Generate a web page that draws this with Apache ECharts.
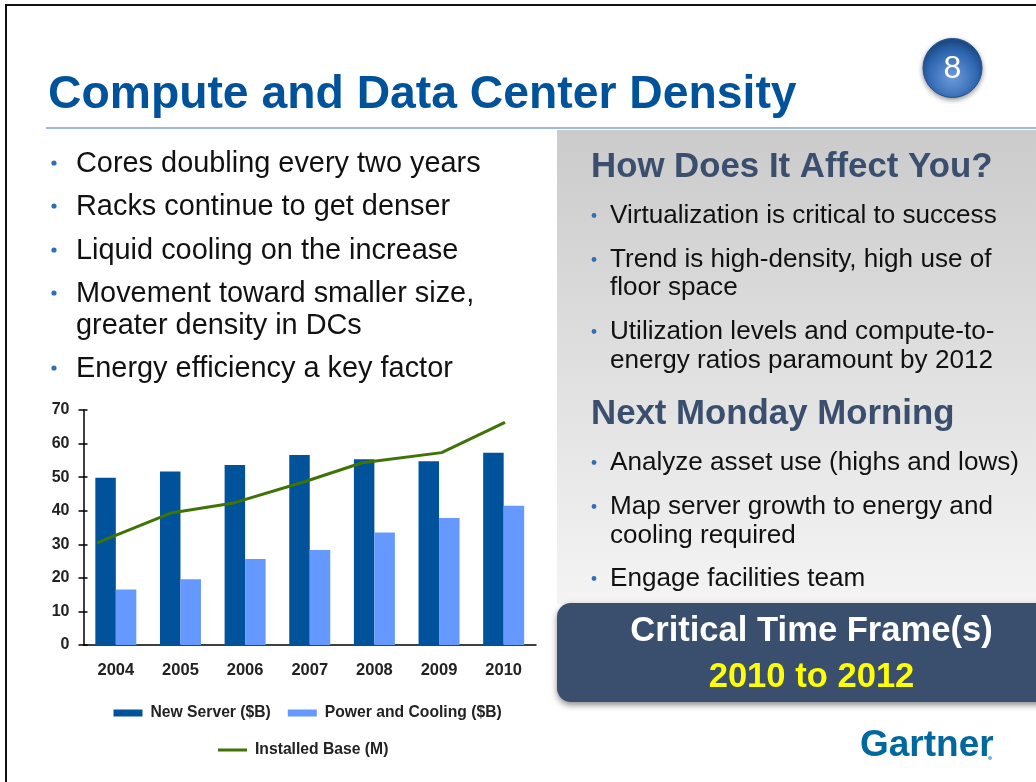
<!DOCTYPE html>
<html>
<head>
<meta charset="utf-8">
<style>html,body{margin:0;padding:0;background:#fff}#c{width:1036px;height:782px}</style>
<script src="https://cdn.jsdelivr.net/npm/echarts@6/dist/echarts.min.js"></script>
</head>
<body>
<div id="c"></div>
<script>
const categories = ['2004','2005','2006','2007','2008','2009','2010'];
const newServer = [49.8,51.7,53.6,56.6,55.3,54.7,57.3];
const powerCooling = [16.5,19.6,25.6,28.3,33.5,37.8,41.5];
const installedBase = [30.4,39.3,42.2,48.7,54.3,57.3,66.3];
const installedBaseYears = [2003.71,2004.85,2005.8,2006.93,2007.81,2009.04,2010.02];

const slideTitle = 'Compute and Data Center Density';
const leftBullets = ['Cores doubling every two years','Racks continue to get denser','Liquid cooling on the increase','Movement toward smaller size,\ngreater density in DCs','Energy efficiency a key factor'];
const affectHeading = 'How Does It Affect You?';
const affectBullets = ['Virtualization is critical to success','Trend is high-density, high use of\nfloor space','Utilization levels and compute-to-\nenergy ratios paramount by 2012'];
const mondayHeading = 'Next Monday Morning';
const mondayBullets = ['Analyze asset use (highs and lows)','Map server growth to energy and\ncooling required','Engage facilities team'];

const FF = '"Liberation Sans", Arial, sans-serif';
const NAVY = '#3A4E6E', BLUE = '#00529B';
const g = [];
const text = (x,y,t,size,fill,weight,align) => g.push({type:'text',z:5,style:{x,y,text:t,fill,font:(weight||'normal')+' '+size+'px '+FF,textAlign:align||'left',textVerticalAlign:'middle'}});
const rect = (x,y,w,h,style,r) => g.push({type:'rect',z:style.z||1,shape:{x,y,width:w,height:h,r:r||0},style});
const bullet = (x,y,c,r) => g.push({type:'circle',z:5,shape:{cx:x,cy:y,r:r},style:{fill:c}});

// slide frame
rect(5,4,1031,2,{fill:'#111'});
rect(5,4,2,778,{fill:'#111'});
rect(46,127,990,2,{fill:'#9DB7E0'});
rect(557,130,479,474,{fill:new echarts.graphic.LinearGradient(0,0,0,1,[{offset:0,color:'#CBCBCB'},{offset:1,color:'#F4F4F4'}])});
g.push({type:'rect',z:2,shape:{x:557,y:603,width:490,height:99,r:[14,0,0,14]},style:{fill:NAVY,shadowBlur:6,shadowOffsetY:3,shadowColor:'rgba(0,0,0,0.45)'}});

text(48,95,slideTitle,46.3,BLUE,'bold');
g.push({type:'circle',z:3,shape:{cx:952.5,cy:68,r:29.5},style:{fill:new echarts.graphic.RadialGradient(0.5,0.65,0.6,[{offset:0,color:'#6E9BDB'},{offset:0.7,color:'#2F67B2'},{offset:1,color:'#1F4E8C'}]),stroke:'#23508F',lineWidth:1,shadowBlur:5,shadowOffsetY:2,shadowColor:'rgba(0,0,0,0.4)'}});
text(952.5,69,'8',32,'#fff','normal','center');

// left bullets
const leftY = [[164],[207],[251],[294,326],[369]];
leftBullets.forEach((b,i)=>{
  bullet(54,leftY[i][0]-1,'#2F6FB5',2.6);
  b.split('\n').forEach((l,j)=>text(76,leftY[i][j],l,28.9,'#111'));
});

// right column
text(591,167,affectHeading,34.8,NAVY,'bold');
const affectY = [[215.5],[259.5,287.5],[331.5,360.5]];
affectBullets.forEach((b,i)=>{
  bullet(594,affectY[i][0],'#2F6FB5',2.4);
  b.split('\n').forEach((l,j)=>text(610,affectY[i][j],l,26.1,'#111'));
});
text(591,414,mondayHeading,34.8,NAVY,'bold');
const mondayY = [[462.5],[506.5,535.5],[578.5]];
mondayBullets.forEach((b,i)=>{
  bullet(594,mondayY[i][0],'#2F6FB5',2.4);
  b.split('\n').forEach((l,j)=>text(610,mondayY[i][j],l,26.1,'#111'));
});
text(811.5,631.5,'Critical Time Frame(s)',34.6,'#fff','bold','center');
text(811.5,677,'2010 to 2012',34.6,'#FFFF00','bold','center');
text(860,746,'Gartner',37,'#00689F','bold');
g.push({type:'circle',z:5,shape:{cx:990,cy:758,r:2},style:{fill:'#7FB2D0'}});

const chart = echarts.init(document.getElementById('c'),null,{renderer:'canvas'});
const legendText = {color:'#222',fontFamily:FF,fontWeight:'bold',fontSize:15.7,padding:[0,0,0,3]};
chart.setOption({
  animation:false,
  backgroundColor:'#fff',
  graphic:g,
  grid:{left:83.5,right:500,top:410,bottom:137},
  legend:[
    {left:108.5,top:700,itemWidth:29,itemHeight:7,itemGap:17,textStyle:legendText,icon:'rect',
     data:[{name:'New Server ($B)'},{name:'Power and Cooling ($B)'}]},
    {left:213,top:737,itemWidth:29,itemHeight:3,textStyle:legendText,icon:'rect',
     data:[{name:'Installed Base (M)'}]}
  ],
  xAxis:[
    {type:'category',data:categories,axisTick:{show:false},
     axisLine:{lineStyle:{color:'#000',width:1.5}},
     axisLabel:{margin:17,color:'#222',fontFamily:FF,fontWeight:'bold',fontSize:16.5}},
    {type:'value',min:2003.5,max:2010.5,show:false}
  ],
  yAxis:[
    {type:'value',min:0,max:70,interval:10,splitLine:{show:false},
     axisLine:{show:true,lineStyle:{color:'#000',width:1.5}},
     axisTick:{show:true,length:5,lineStyle:{color:'#000',width:1.5}},
     axisLabel:{margin:14,color:'#222',fontFamily:FF,fontWeight:'bold',fontSize:16}},
    {type:'value',min:0,max:70,interval:10,position:'left',splitLine:{show:false},
     axisLine:{show:false},axisLabel:{show:false},
     axisTick:{show:true,inside:true,length:4,lineStyle:{color:'#000',width:1.5}}}
  ],
  series:[
    {name:'New Server ($B)',type:'bar',data:newServer,barWidth:20.5,barGap:0,itemStyle:{color:BLUE},z:2},
    {name:'Power and Cooling ($B)',type:'bar',data:powerCooling,barWidth:20.5,barGap:0,itemStyle:{color:'#6699FF'},z:2},
    {name:'Installed Base (M)',type:'line',xAxisIndex:1,yAxisIndex:0,z:3,showSymbol:false,symbol:'none',
     data:installedBaseYears.map((x,i)=>[x,installedBase[i]]),
     itemStyle:{color:'#3F7305'},lineStyle:{color:'#3F7305',width:3}}
  ]
});
</script>
</body>
</html>
